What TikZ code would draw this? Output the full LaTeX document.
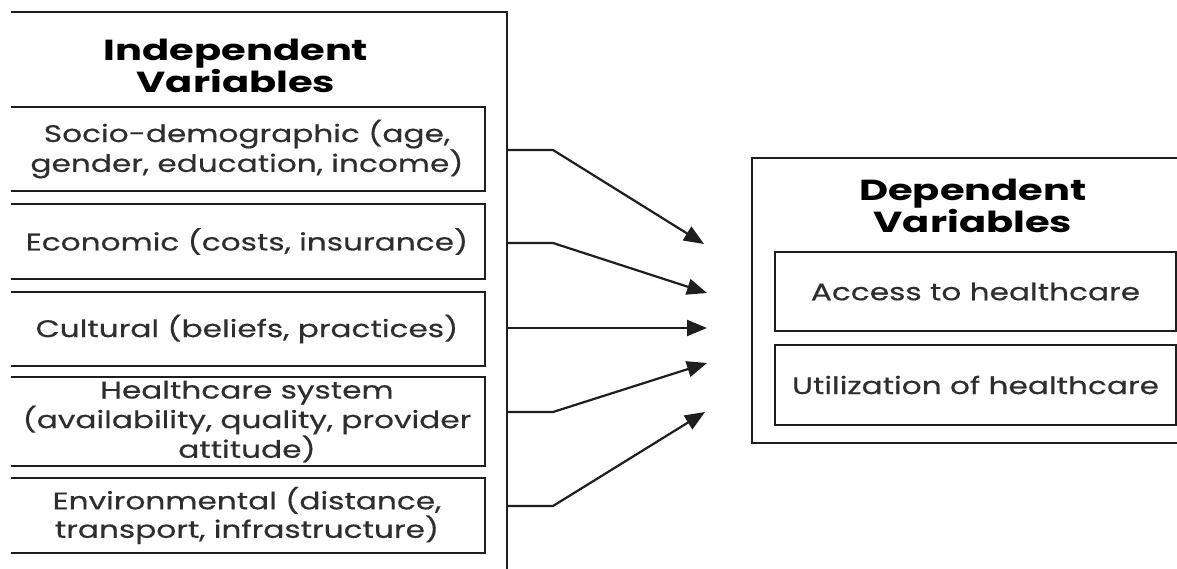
\documentclass[tikz,border=0pt]{standalone}
\usepackage{fontspec}
\setmainfont{Poppins}[FakeStretch=1.3,FakeBold=0.4]
\newfontfamily\ttlfont{Poppins}[FakeStretch=1.38]
\usetikzlibrary{arrows.meta}
\definecolor{ink}{HTML}{1E1E1E}
\definecolor{txt}{HTML}{2E2E2E}
\begin{document}
\begin{tikzpicture}[x=1pt,y=-1pt,
  box/.style={draw=ink,line width=2pt,inner sep=0pt,outer sep=0pt},
  lbl/.style={text=txt,font=\fontsize{24}{28.5}\selectfont,align=center},
  ttl/.style={text=black,font=\ttlfont\bfseries\fontsize{29}{28.5}\selectfont,align=center},
  conn/.style={draw=ink,line width=2.2pt,-{Triangle[length=20pt,width=16pt]}}]
\useasboundingbox[fill=white] (0,0) rectangle (1177,569);
\begin{scope}
\clip (11,0) rectangle (1177,569);
\node[box,minimum width=520pt,minimum height=580pt] (indep) at (247,302.5) {};
\node[box,lbl,minimum width=476pt,minimum height=84pt] (b1) at (247,149) {Socio-demographic (age,\\gender, education, income)};
\node[box,lbl,minimum width=476pt,minimum height=75pt] (b2) at (247,241.5) {Economic (costs, insurance)};
\node[box,lbl,minimum width=476pt,minimum height=74pt] (b3) at (247,329) {Cultural (beliefs, practices)};
\node[box,lbl,minimum width=476pt,minimum height=89pt] (b4) at (247,421.5) {Healthcare system\\(availability, quality, provider\\attitude)};
\node[box,lbl,minimum width=476pt,minimum height=75pt] (b5) at (247,515.5) {Environmental (distance,\\transport, infrastructure)};
\node[box,minimum width=448pt,minimum height=285pt] (dep) at (976,300.5) {};
\node[box,lbl,minimum width=401pt,minimum height=79pt] (d1) at (975.5,291.5) {Access to healthcare};
\node[box,lbl,minimum width=401pt,minimum height=80pt] (d2) at (975.5,385) {Utilization of healthcare};
\end{scope}
\node[ttl] (indtitle) at (236,66) {Independent\\Variables};
\node[ttl] (deptitle) at (973,206) {Dependent\\Variables};
\coordinate (s1) at (507,150);
\coordinate (s2) at (507,243);
\coordinate (s3) at (507,328);
\coordinate (s4) at (507,412);
\coordinate (s5) at (507,506);
\coordinate (t1) at (704,244);
\coordinate (t2) at (707,293);
\coordinate (t3) at (707,328);
\coordinate (t4) at (707,363);
\coordinate (t5) at (705,412);
\draw[conn] (s1) -- ++(46,0) -- (t1);
\draw[conn] (s2) -- ++(46,0) -- (t2);
\draw[conn] (s3) -- (t3);
\draw[conn] (s4) -- ++(46,0) -- (t4);
\draw[conn] (s5) -- ++(46,0) -- (t5);
\end{tikzpicture}
\end{document}
